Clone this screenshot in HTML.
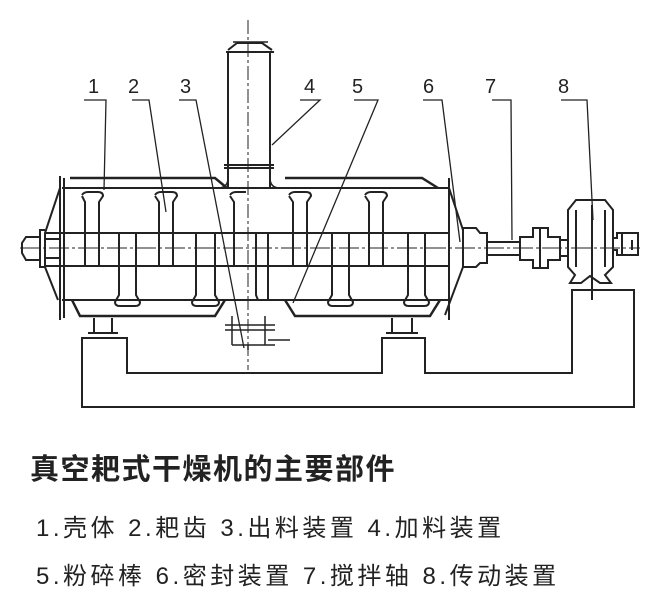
<!DOCTYPE html>
<html><head><meta charset="utf-8"><style>
body{margin:0;background:#fff;width:668px;height:600px;overflow:hidden}
svg{position:absolute;left:0;top:0}
.t{position:absolute;font-family:"Liberation Sans","Noto Sans CJK SC",sans-serif;color:#222;white-space:nowrap}
</style></head><body>
<svg width="668" height="430" viewBox="0 0 668 430" fill="none" stroke="#222" stroke-width="2">
<g font-family="Liberation Sans,sans-serif" font-size="20" fill="#222" stroke="none">
<text x="88" y="93">1</text><text x="128" y="93">2</text><text x="180" y="93">3</text><text x="304" y="93">4</text>
<text x="352" y="93">5</text><text x="423" y="93">6</text><text x="485" y="93">7</text><text x="558" y="93">8</text>
</g>
<g stroke-width="1.3">
<path d="M84 100H106L104 190"/><path d="M132 100H149L166 212"/><path d="M179 100H196L244 348"/>
<path d="M300 100H320L272 145"/><path d="M354 100H378L293 303"/><path d="M423 100H442L460 242"/>
<path d="M492 100H511L512 240"/><path d="M561 100H587L593 220"/>
</g>
<path d="M228 188V52M270 188V52M226 52H274M228 50L237 43H262L272 50"/>
<path d="M224 165H274M224 168H274"/>
<path d="M233 42H268M218 188Q228 188 228 178M280 188Q270 188 270 178" stroke-width="1.5"/>
<path d="M248 20V370" stroke-width="1" stroke-dasharray="14 3 3 3"/>
<path d="M20 248H640" stroke-width="1" stroke-dasharray="20 3 3 3"/>
<path d="M70 178H215L227 188M285 178H422L438 188" stroke-width="2.5"/>
<path d="M62 188H450M62 300H450"/>
<path d="M60 176V320M64 178V318M449 178V320"/>
<path d="M60 188L45 233V267L58 300"/>
<path d="M72 300L80 316H215L225 300M285 300L295 316H430L440 300" stroke-width="2.5"/>
<path d="M449 188L463 230V267L445 315" />
<path d="M45 230H40V237H26L22 243V253L26 260H40V267H45M40 237V260"/>
<path d="M45 233H449M45 266H449M45 239H60M45 258H60"/>
<g>
<path d="M82 195Q84 192 88 192H98Q103 192 103 196L99 202V266M85 266V202L82 196"/>
<path d="M155 195Q157 192 161 192H172Q177 192 177 196L173 202V266M159 266V202L155 196"/>
<path d="M230 195Q232 192 236 192H246M234 266V202L230 196"/>
<path d="M289 195Q291 192 295 192H306Q311 192 311 196L307 202V266M293 266V202L289 196"/>
<path d="M365 195Q367 192 371 192H382Q387 192 387 196L383 202V266M369 266V202L365 196"/>
</g>
<g>
<path d="M119 233V295L115 302Q115 306 120 306H135Q140 306 140 302L136 295V233"/>
<path d="M196 233V295L192 302Q192 306 197 306H214Q219 306 219 302L215 295V233"/>
<path d="M256 233V295L258 300M268 233V300"/>
<path d="M332 233V295L328 302Q328 306 333 306H348Q353 306 353 302L349 295V233"/>
<path d="M408 233V295L404 302Q404 306 409 306H424Q429 306 429 302L425 295V233"/>
</g>
<path d="M232 316V345M265 316V345M225 325H275M225 330H275M232 345H275M248 345V350M268 340H290" stroke-width="1.5"/>
<path d="M94 318V333M112 318V333M88 333H118M392 318V333M412 318V333M386 333H418"/>
<path d="M82 338H127V373H382V338H425V373H572V290H634V407H82Z"/>
<path d="M463 230V228H476L480 233H487V263H480L476 267H463"/>
<path d="M487 242H520M487 255H520"/>
<path d="M520 237H533V228H548V237H560V260H548V268H533V260H520Z M540 228V268"/>
<path d="M560 240H568M560 256H568"/>
<path d="M568 267V210L576 200H605L613 210V267L605 275L611 283H600L590 276L581 283H570L575 275Z"/>
<path d="M576 210V267M605 210V267M592 205V300"/>
<path d="M613 238H617V233H638V255H617V250H613M622 233V255M632 240V250"/>
</svg>
<div class="t" style="left:30px;top:446px;font-size:29px;font-weight:bold;letter-spacing:1.5px">真空耙式干燥机的主要部件</div>
<div class="t" style="left:36px;top:508px;font-size:24px;letter-spacing:3.5px">1.壳体 2.耙齿 3.出料装置 4.加料装置</div>
<div class="t" style="left:36px;top:556px;font-size:24px;letter-spacing:3.5px">5.粉碎棒 6.密封装置 7.搅拌轴 8.传动装置</div>
</body></html>
